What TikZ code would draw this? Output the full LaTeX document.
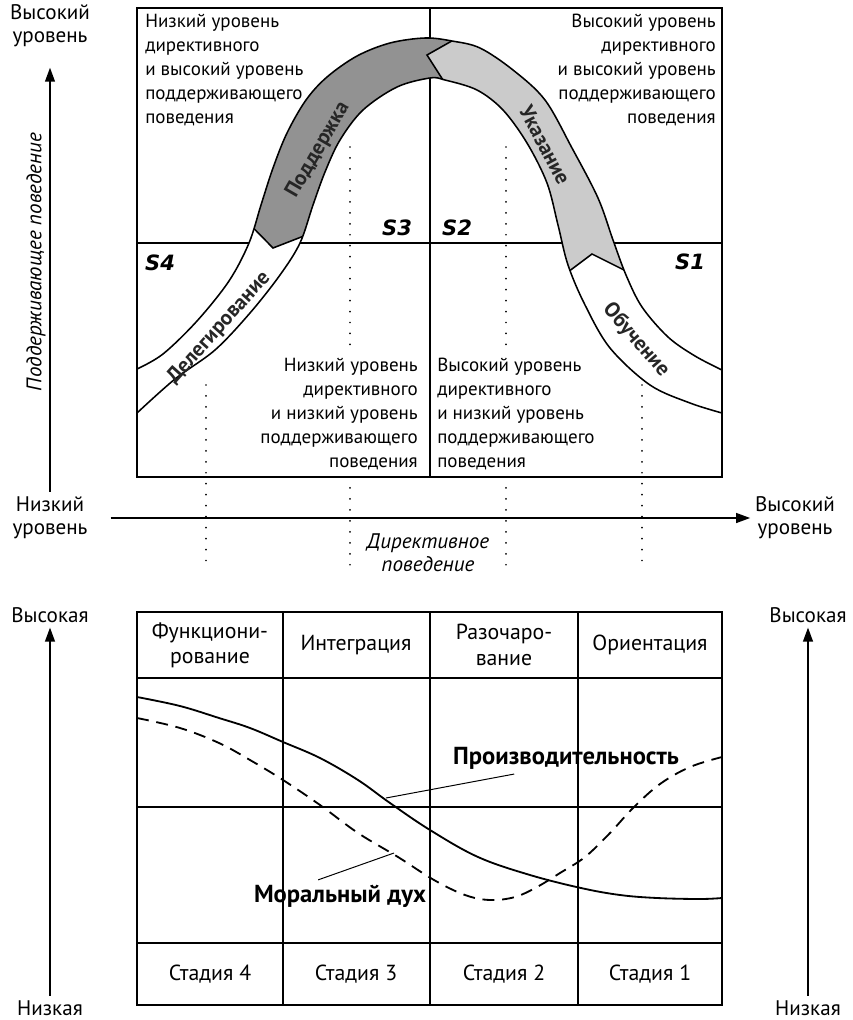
\documentclass[tikz,border=0pt]{standalone}
\usepackage{fontspec}
\setmainfont{PT Sans}
\newfontfamily\sfont{DejaVu Sans}
\usetikzlibrary{arrows.meta, calc, positioning}
\definecolor{bandDark}{HTML}{929292}
\definecolor{bandLight}{HTML}{CBCBCB}
\tikzset{
  frame/.style={line width=1.6pt},
  gridline/.style={line width=1.2pt},
  guide/.style={line width=1.4pt, line cap=round, dash pattern=on 0pt off 7.8pt},
  axis/.style={line width=1.2pt, -{Triangle[length=10pt,width=7pt]}},
  quad/.style={font=\fontsize{13.5}{17}\selectfont, inner sep=0pt},
  axlabel/.style={font=\fontsize{15}{16.5}\selectfont, align=center},
  cell/.style={font=\fontsize{15.5}{18}\selectfont, align=center},
  slabel/.style={font=\sfont\fontsize{15}{15}\selectfont\bfseries\itshape},
  bandtext/.style={font=\fontsize{15}{15}\selectfont\bfseries, text=black!85, inner sep=1pt},
  bandedge/.style={line width=1.1pt},
  curvelabel/.style={font=\fontsize{17.5}{17.5}\selectfont\bfseries},
  perfline/.style={line width=1.3pt},
  moraleline/.style={line width=1.3pt, dash pattern=on 8.5pt off 5.5pt},
  leader/.style={line width=0.7pt},
}
\begin{document}
\begin{tikzpicture}[x=0.025cm, y=-0.025cm]
\useasboundingbox (0,0) rectangle (853,1020);

% Situational leadership grid
\draw[gridline] (430,8) -- (430,477);
\draw[gridline] (137,243) -- (722,243);

% Bell-shaped band
\path[save path=\bandpath]
  plot[smooth, tension=0.55] coordinates {(137,369) (163,354) (197,321) (229,281) (249,243) (261,205) (273,168) (287,133) (306,100) (327,77) (357,56) (390,43) (425,38) (452,41) (480,48) (513,70) (545,100) (572,148) (598,198) (613,240) (626,275) (642,307) (668,337) (695,356) (722,370)}
  -- plot[smooth, tension=0.55] coordinates {(722,413) (690,403) (650,385) (610,348) (585,305) (568,265) (558,225) (547,183) (527,143) (503,110) (477,90) (445,80) (430,78) (397,87) (363,110) (340,140) (325,172) (313,205) (300,243) (280,275) (250,313) (215,350) (175,379) (137,413)}
  -- cycle;
\fill[white, use path=\bandpath];
\begin{scope}
  \clip[use path=\bandpath];
  \fill[bandDark] (225,199) -- (273,248) -- (345,220) -- (459,105) -- (427,55) -- (473,29) -- (420,0) -- (200,0) -- cycle;
  \fill[bandLight] (473,29) -- (427,55) -- (459,105) -- (548,287) -- (592,254) -- (640,278) -- (700,200) -- (650,0) -- (480,0) -- cycle;
  \draw[bandedge] (225,199) -- (273,248) -- (345,220);
  \draw[bandedge] (473,29) -- (427,55) -- (459,105);
  \draw[bandedge] (548,287) -- (592,254) -- (640,278);
\end{scope}
\draw[bandedge, use path=\bandpath];

% Dotted guides
\draw[guide] (206,385) -- (206,567);
\draw[guide] (350,147) -- (350,352);
\draw[guide] (350,477) -- (350,567);
\draw[guide] (506,147) -- (506,352);
\draw[guide] (506,477) -- (506,567);
\draw[guide] (642,385) -- (642,567);

\draw[frame] (137,8) rectangle (722,477);

% Band labels
\node[bandtext, rotate=60] (support) at (318,150) {Поддержка};
\node[bandtext, rotate=-62] (direct) at (545,145) {Указание};
\node[bandtext, rotate=48] (deleg) at (219,328) {Делегирование};
\node[bandtext, rotate=-49] (coach) at (636,340) {Обучение};

\node[slabel] (s3) at (397,228) {S3};
\node[slabel] (s2) at (457,228) {S2};
\node[slabel] (s4) at (160,263) {S4};
\node[slabel] (s1) at (690,262) {S1};

% Quadrant texts
\node[quad, anchor=north west, align=left] (q3) at (145,14) {Низкий уровень\\директивного\\и высокий уровень\\поддерживающего\\поведения};
\node[quad, anchor=north east, align=right] (q2) at (716,14) {Высокий уровень\\директивного\\и высокий уровень\\поддерживающего\\поведения};
\node[quad, anchor=south east, align=right] (q4) at (418,470) {Низкий уровень\\директивного\\и низкий уровень\\поддерживающего\\поведения};
\node[quad, anchor=south west, align=left] (q1) at (437,470) {Высокий уровень\\директивного\\и низкий уровень\\поддерживающего\\поведения};

% Axes
\node[axlabel] (highY) at (50,26) {Высокий\\уровень};
\node[axlabel] (lowY) at (50,518) {Низкий\\уровень};
\node[axlabel] (highX) at (795,518) {Высокий\\уровень};
\node[axlabel, font=\fontsize{15}{16.5}\selectfont\itshape] (xtitle) at (428,553) {Директивное\\поведение};
\node[axlabel, font=\fontsize{15}{16.5}\selectfont\itshape, rotate=90] (ytitle) at (36,262) {Поддерживающее поведение};
\draw[axis, shorten >=11pt] (lowY.north) -- (highY.south);
\draw[axis, shorten <=13pt] (lowY.east) -- (highX.west);

% Team development stages
\draw[gridline] (137,678) -- (722,678);
\draw[gridline] (137,807) -- (722,807);
\draw[gridline] (137,943) -- (722,943);
\foreach \cx in {283,430,578}
  \draw[gridline] (\cx,612) -- (\cx,1005);

\node[cell] (h4) at (210,645) {Функциони-\\рование};
\node[cell] (h3) at (356,645) {Интеграция};
\node[cell] (h2) at (504,645) {Разочаро-\\вание};
\node[cell] (h1) at (650,645) {Ориентация};

\node[cell] (st4) at (210,974) {Стадия 4};
\node[cell] (st3) at (356,974) {Стадия 3};
\node[cell] (st2) at (504,974) {Стадия 2};
\node[cell] (st1) at (650,974) {Стадия 1};

\draw[perfline] plot[smooth, tension=0.6] coordinates {(137,697) (180,706) (219,718) (250,728) (283,742) (320,758) (358,780) (390,803) (430,830) (478,857) (530,875) (581,888) (620,895) (657,898) (700,899) (722,898)};
\draw[moraleline] plot[smooth, tension=0.6] coordinates {(137,718) (180,728) (219,743) (250,760) (283,780) (320,805) (358,833) (398,857) (434,880) (465,895) (490,900) (515,897) (537,887) (560,873) (585,857) (610,833) (633,808) (660,784) (690,767) (722,757)};

\node[curvelabel] (perf) at (566,758) {Производительность};
\node[curvelabel] (moral) at (340,896) {Моральный дух};
\coordinate (perfpt) at (386,798);
\coordinate (moralpt) at (394,853);
\draw[leader] ($(perf.south west)!0.28!(perf.south east)$) -- (perfpt);
\draw[leader] ($(moral.north west)!0.38!(moral.north east)$) -- (moralpt);

\draw[frame] (137,612) rectangle (722,1005);

\node[axlabel] (highL) at (50,615) {Высокая};
\node[axlabel] (lowL) at (50,1008) {Низкая};
\node[axlabel] (highR) at (808,615) {Высокая};
\node[axlabel] (lowR) at (808,1008) {Низкая};
\draw[axis] (lowL.north) -- (highL.south);
\draw[axis] (lowR.north) -- (highR.south);

\end{tikzpicture}
\end{document}
